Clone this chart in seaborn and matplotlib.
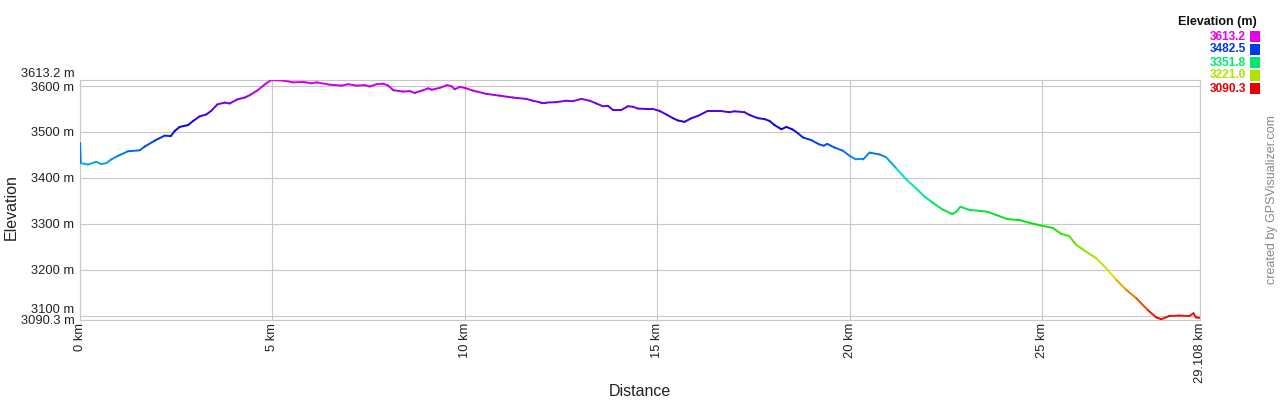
import colorsys
import numpy as np
import matplotlib
matplotlib.use("Agg")
import matplotlib.pyplot as plt
from matplotlib.collections import LineCollection
from matplotlib.patches import Rectangle
import seaborn as sns

# profil (km, m)
distance_km = [0.0, 0.02, 0.21, 0.42, 0.55, 0.68, 0.81, 0.99, 1.25, 1.55, 1.68, 1.94,
               2.20, 2.36, 2.46, 2.59, 2.81, 2.94, 3.11, 3.28, 3.41, 3.57, 3.76, 3.89,
               4.09, 4.28, 4.41, 4.62, 4.84, 4.97, 5.28, 5.54, 5.80, 6.02, 6.15, 6.49,
               6.80, 6.97, 7.19, 7.40, 7.53, 7.71, 7.88, 8.01, 8.14, 8.40, 8.57, 8.70,
               8.92, 9.05, 9.14, 9.35, 9.54, 9.65, 9.74, 9.87, 10.00, 10.22, 10.56, 10.91,
               11.25, 11.60, 11.77, 11.99, 12.12, 12.38, 12.64, 12.81, 13.03, 13.25, 13.42,
               13.59, 13.72, 13.85, 14.07, 14.24, 14.37, 14.50, 14.72, 14.89, 15.06, 15.24,
               15.41, 15.54, 15.71, 15.89, 16.06, 16.32, 16.62, 16.88, 17.01, 17.27, 17.40,
               17.62, 17.79, 17.92, 18.05, 18.23, 18.36, 18.53, 18.66, 18.79, 19.01, 19.21,
               19.33, 19.42, 19.61, 19.83, 20.00, 20.17, 20.35, 20.52, 20.78, 20.95, 21.21,
               21.47, 21.73, 21.95, 22.16, 22.42, 22.67, 22.77, 22.88, 23.12, 23.38, 23.59,
               23.81, 24.11, 24.42, 24.68, 24.98, 25.28, 25.50, 25.71, 25.89, 26.15, 26.41,
               26.67, 26.93, 27.19, 27.45, 27.75, 27.97, 28.10, 28.31, 28.57, 28.83, 28.94,
               29.00, 29.108]
elevation_m = [3476, 3432, 3429, 3435, 3430, 3432, 3440, 3448, 3458, 3460, 3468, 3481,
               3492, 3491, 3502, 3511, 3515, 3524, 3534, 3538, 3546, 3560, 3564, 3562,
               3571, 3575, 3580, 3591, 3606, 3613, 3612, 3608, 3609, 3606, 3608, 3603,
               3601, 3604, 3601, 3602, 3599, 3604, 3605, 3601, 3591, 3588, 3589, 3585,
               3591, 3595, 3592, 3596, 3602, 3600, 3593, 3598, 3596, 3590, 3583, 3579,
               3575, 3572, 3568, 3564, 3564, 3565, 3568, 3567, 3572, 3568, 3562,
               3556, 3557, 3548, 3548, 3556, 3555, 3551, 3550, 3550, 3546, 3538,
               3530, 3525, 3522, 3530, 3535, 3546, 3546, 3543, 3545, 3543, 3537,
               3530, 3528, 3524, 3515, 3506, 3511, 3505, 3497, 3488, 3482, 3473,
               3470, 3474, 3466, 3459, 3448, 3440, 3440, 3455, 3451, 3445, 3421,
               3397, 3377, 3359, 3346, 3331, 3321, 3326, 3337, 3330, 3328, 3326,
               3319, 3310, 3308, 3302, 3296, 3291, 3278, 3273, 3254, 3239, 3225,
               3203, 3178, 3156, 3138, 3112, 3096, 3092, 3099, 3100, 3099, 3105,
               3096, 3095]

elev_min, elev_max = 3090.3, 3613.2
ytick_values = [3090.3, 3100, 3200, 3300, 3400, 3500, 3600, 3613.2]
ytick_labels = ["3090.3 m", "3100 m", "3200 m", "3300 m", "3400 m", "3500 m", "3600 m", "3613.2 m"]
xtick_values = [0, 5, 10, 15, 20, 25, 29.108]
xtick_labels = ["0 km", "5 km", "10 km", "15 km", "20 km", "25 km", "29.108 km"]
legend_values = [3613.2, 3482.5, 3351.8, 3221.0, 3090.3]


def elev_color(e):
    # rouge (bas) -> magenta (haut)
    t = (e - elev_min) / (elev_max - elev_min)
    return colorsys.hsv_to_rgb(np.clip(t, 0, 1) * 300 / 360, 1.0, 0.9)


sns.set_style("white")
plt.rcParams['font.family'] = ['Liberation Sans', 'DejaVu Sans']

fig = plt.figure(figsize=(12.8, 4), dpi=100)
ax = fig.add_axes([80 / 1280, 80 / 400, 1120 / 1280, 240 / 400])

grid_c = "#c8c8c8"
for v in ytick_values:
    ax.axhline(v, color=grid_c, lw=0.8, zorder=0)
for v in xtick_values:
    ax.axvline(v, color=grid_c, lw=0.8, zorder=0)

pts = np.column_stack([distance_km, elevation_m])
segs = np.stack([pts[:-1], pts[1:]], axis=1)
mids = (np.array(elevation_m[:-1]) + np.array(elevation_m[1:])) / 2
lc = LineCollection(segs, colors=[elev_color(e) for e in mids], linewidths=1.4,
                    capstyle="round", joinstyle="round", zorder=3)
ax.add_collection(lc)

ax.set_xlim(0, 29.108)
ax.set_ylim(elev_min, elev_max)
for s in ax.spines.values():
    s.set_color(grid_c)
    s.set_linewidth(0.8)

ax.set_yticks(ytick_values)
ax.set_yticklabels(ytick_labels, fontsize=9.3, color="#222222")
ax.set_xticks(xtick_values)
ax.set_xticklabels(xtick_labels, fontsize=9.3, color="#222222", rotation=90, va="top")
ax.tick_params(axis="y", length=0, pad=4)
ax.tick_params(axis="x", length=0, pad=2)
ylabs = ax.get_yticklabels()
ylabs[-1].set_va("bottom")
ylabs[1].set_va("bottom")

ax.set_xlabel("Distance", fontsize=11.5, color="#222222", va="center")
ax.xaxis.set_label_coords(0.5, -0.3)
ax.set_ylabel("Elevation", fontsize=11.5, color="#222222", va="center")
ax.yaxis.set_label_coords(-0.061, 0.47)

# légende des couleurs
fig.text(1257 / 1280, 1 - 22 / 400, "Elevation (m)", ha="right", va="center",
         fontsize=9, fontweight="bold", color="#111111")
for i, v in enumerate(legend_values):
    yc = 36.5 + 13 * i
    c = elev_color(v)
    fig.text(1246 / 1280, 1 - yc / 400, f"{v:.1f}", ha="right", va="center",
             fontsize=8.6, fontweight="bold", color=c)
    fig.add_artist(Rectangle((1250 / 1280, 1 - (yc + 5) / 400), 10 / 1280, 10 / 400,
                             transform=fig.transFigure, facecolor=c, edgecolor="none"))

fig.text(1272 / 1280, 1 - 200 / 400, "created by GPSVisualizer.com", rotation=90,
         ha="center", va="center", fontsize=9, color="#888888")

fig.savefig("out.png", dpi=100)
